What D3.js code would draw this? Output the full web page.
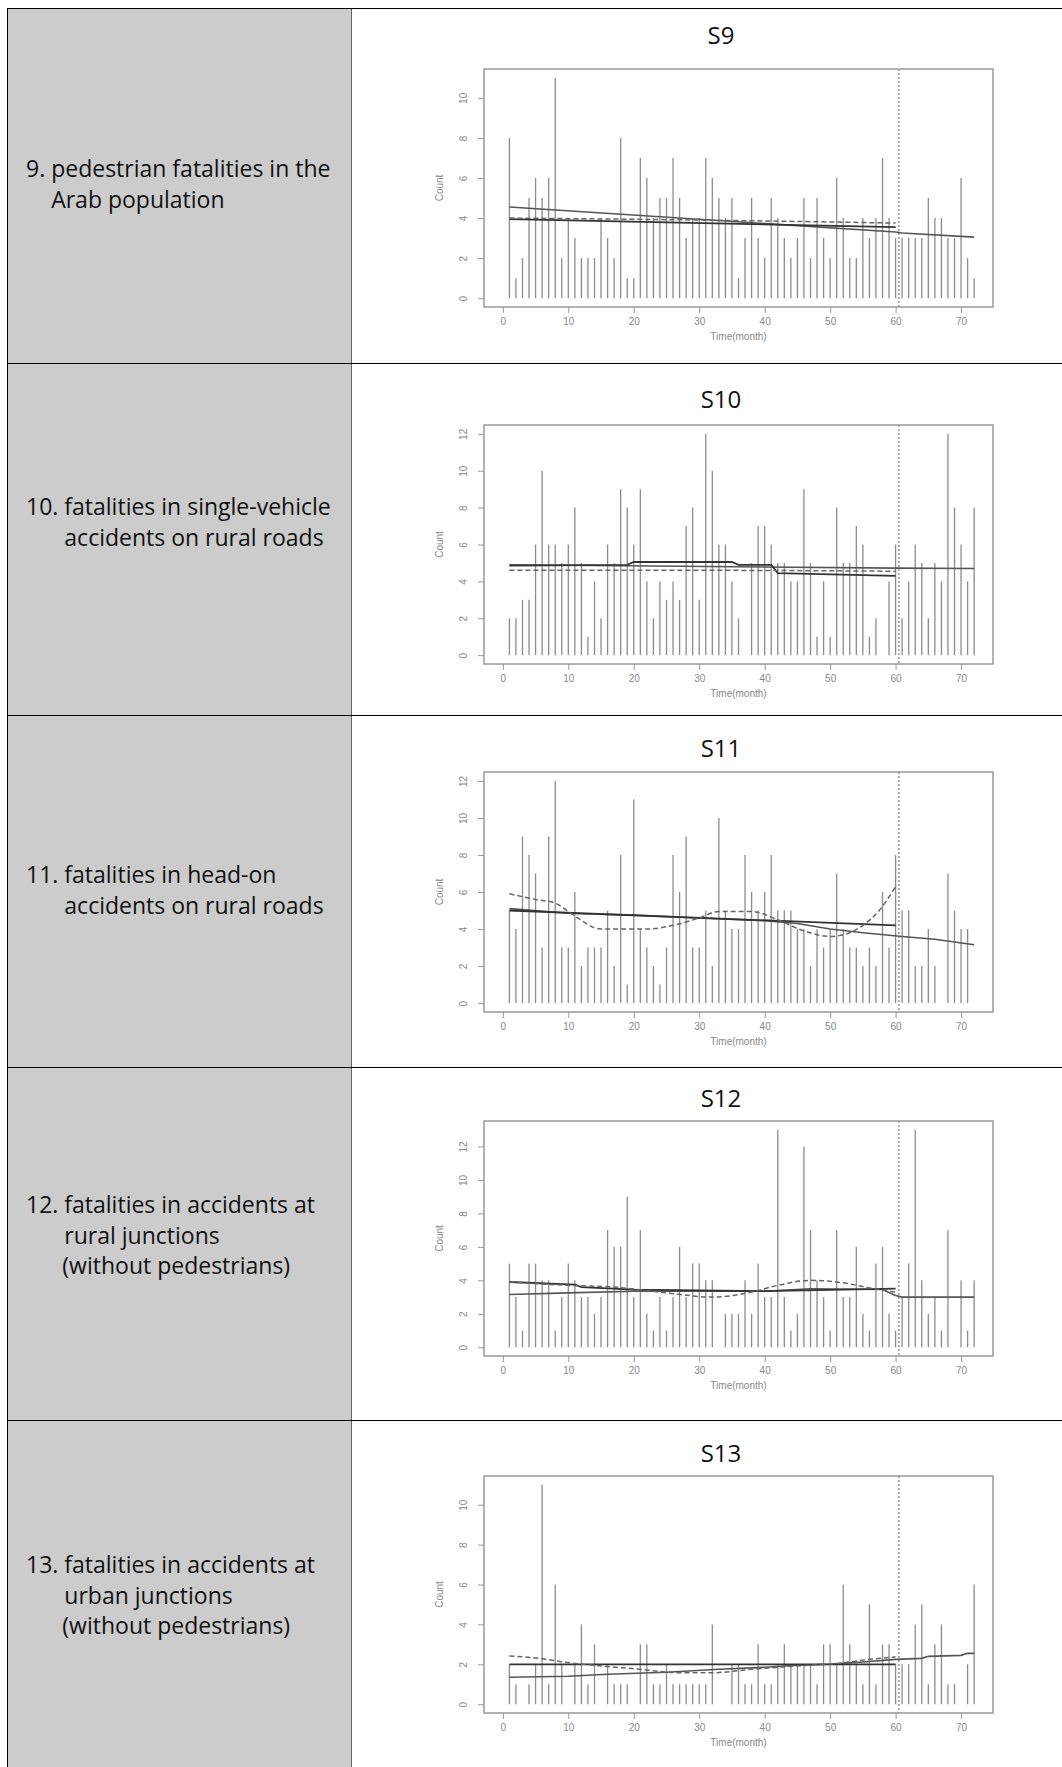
<!DOCTYPE html>
<html>
<head>
<meta charset="utf-8">
<script src="https://cdn.jsdelivr.net/npm/d3@7"></script>
<style>
  body { margin: 0; background: #fff; }
  svg { display: block; }
</style>
</head>
<body>
<div id="chart"></div>
<script>
// monthly counts, months 1..72
const s9Counts  = [8,1,2,5,6,5,6,11,2,4, 3,2,2,2,4,3,2,8,1,1, 7,6,4,5,5,7,5,3,4,4, 7,6,5,4,5,1,3,5,3,2, 5,4,3,2,3,5,2,5,3,2, 6,4,2,2,4,3,4,7,4,3, 3,3,3,3,5,4,4,3,3,6,2,1];
const s10Counts = [2,2,3,3,6,10,6,6,5,6, 8,5,1,4,2,6,5,9,8,6, 9,4,2,4,3,4,3,7,8,3, 12,10,6,6,4,2,0,5,7,7, 6,5,5,4,4,9,5,1,4,1, 8,5,5,7,6,1,2,0,4,6, 2,4,6,5,2,5,4,12,8,6,4,8];
const s11Counts = [5,4,9,8,7,3,9,12,3,3, 6,2,3,3,3,5,2,8,1,11, 4,3,2,1,3,8,6,9,3,3, 5,2,10,5,4,4,8,6,5,6, 8,5,5,5,4,4,2,4,3,4, 7,4,3,3,2,3,2,6,3,8, 5,5,2,2,4,2,0,7,5,4,4,0];
const s12Counts = [5,3,1,5,5,4,4,1,3,5, 4,3,3,2,3,7,6,6,9,3, 7,2,1,3,1,3,6,3,5,5, 4,4,0,2,2,2,4,2,5,3, 3,13,3,1,2,12,7,4,3,1, 7,3,3,6,2,1,5,6,2,1, 3,5,13,4,2,3,1,7,0,4,1,4];
const s13Counts = [2,1,0,1,2,11,1,6,2,0, 2,4,1,3,0,2,1,1,1,0, 3,3,1,1,2,1,1,1,1,1, 1,4,0,0,2,2,1,1,3,1, 1,2,3,2,2,2,2,1,3,3, 2,6,3,2,1,5,1,3,3,2, 2,2,4,5,1,3,4,1,1,0,2,6];

// fitted lines: [month, value]
const s9FitA = [[1,4.55],[60,3.3],[61,3.25],[72,3.05]];
const s9FitB = [[1,3.95],[60,3.55]];
const s9Smooth = [[1,4.0],[30,3.9],[60,3.75]];

const s10FitA = [[1,4.9],[60,4.72],[72,4.7]];
const s10FitB = [[1,4.85],[19,4.9],[20,5.05],[35,5.05],[36,4.9],[41,4.9],[42,4.45],[60,4.3]];
const s10Smooth = [[1,4.6],[30,4.6],[60,4.55]];

const s11FitA = [[1,5.1],[10,4.85],[20,4.75],[30,4.6],[40,4.45],[45,4.3],[50,4.0],[55,3.8],[61,3.6],[66,3.45],[72,3.15]];
const s11FitB = [[1,5.0],[60,4.2]];
const s11Smooth = [[1,5.9],[5,5.6],[8,5.4],[11,4.7],[15,4.0],[22,4.0],[26,4.2],[30,4.6],[33,4.95],[38,4.95],[42,4.5],[46,3.9],[50,3.6],[53,3.8],[55,4.2],[57.5,5.0],[60,6.3]];

const s12FitA = [[1,3.15],[10,3.25],[20,3.35],[40,3.35],[47,3.5],[58,3.45],[60,3.1],[61,3.0],[72,3.0]];
const s12FitB = [[1,3.9],[11,3.75],[12,3.6],[20,3.45],[40,3.35],[60,3.5]];
const s12Smooth = [[1,3.9],[10,3.7],[17,3.6],[25,3.25],[32,3.0],[38,3.3],[42,3.7],[47,4.0],[52,3.85],[56,3.55],[60,3.3]];

const s13FitA = [[1,1.35],[10,1.4],[16,1.5],[25,1.6],[33,1.75],[40,1.85],[45,1.95],[50,2.0],[55,2.12],[60,2.25],[64,2.3],[65,2.4],[70,2.45],[71,2.55],[72,2.55]];
const s13FitB = [[1,2.0],[60,2.0]];
const s13Smooth = [[1,2.42],[6,2.28],[9,2.13],[15,1.92],[20,1.78],[27,1.58],[32,1.58],[38,1.75],[45,1.92],[52,2.08],[56,2.25],[60,2.37]];

const titles = ["S9","S10","S11","S12","S13"];
const labels = [
  ["9. pedestrian fatalities in the", "Arab population"],
  ["10. fatalities in single-vehicle", "accidents on rural roads"],
  ["11. fatalities in head-on", "accidents on rural roads"],
  ["12. fatalities in accidents at", "rural junctions", "(without pedestrians)"],
  ["13. fatalities in accidents at", "urban junctions", "(without pedestrians)"]
];
const yMax = [11, 12, 12, 13, 11];
const yTicks = [[0,2,4,6,8,10],[0,2,4,6,8,10,12],[0,2,4,6,8,10,12],[0,2,4,6,8,10,12],[0,2,4,6,8,10]];
const xTicks = [0,10,20,30,40,50,60,70];
const interventionMonth = 60.5;

const panels = [
  {counts: s9Counts,  fitA: s9FitA,  fitB: s9FitB,  smooth: s9Smooth},
  {counts: s10Counts, fitA: s10FitA, fitB: s10FitB, smooth: s10Smooth},
  {counts: s11Counts, fitA: s11FitA, fitB: s11FitB, smooth: s11Smooth},
  {counts: s12Counts, fitA: s12FitA, fitB: s12FitB, smooth: s12Smooth},
  {counts: s13Counts, fitA: s13FitA, fitB: s13FitB, smooth: s13Smooth}
];

// layout
const W = 1062, H = 1775;
const tableLeft = 7, tableTop = 8, splitX = 351;
const rowTops = [8, 363, 715, 1067, 1420, 1775];
const textBase = [177, 515, 883, 1213, 1573];
const lineGap = 30.5;
const titleBase = [44, 408, 757, 1107, 1462];
const boxTop = [69, 425, 772, 1121, 1476];
const boxBottom = [307, 664, 1012, 1356, 1713];
const boxLeft = 484, boxRight = 993;
const font = "'Open Sans', sans-serif";
const axisFont = "'Liberation Sans', Arial, sans-serif";

const svg = d3.select("#chart").append("svg")
  .attr("width", W).attr("height", H);

// grey label column
svg.append("rect")
  .attr("x", tableLeft).attr("y", tableTop)
  .attr("width", splitX - tableLeft).attr("height", H - tableTop)
  .attr("fill", "#cccccc");

// table lines
svg.append("line").attr("x1", splitX + 0.5).attr("x2", splitX + 0.5)
  .attr("y1", tableTop).attr("y2", H).attr("stroke", "#666").attr("stroke-width", 1);
svg.append("line").attr("x1", tableLeft + 0.5).attr("x2", tableLeft + 0.5)
  .attr("y1", tableTop).attr("y2", H).attr("stroke", "#000").attr("stroke-width", 1);
svg.selectAll("line.row")
  .data(rowTops.slice(0, 5))
  .join("line")
  .attr("class", "row")
  .attr("x1", tableLeft).attr("x2", W)
  .attr("y1", d => d + 0.5).attr("y2", d => d + 0.5)
  .attr("stroke", "#000").attr("stroke-width", 1);

// row labels, hanging indent after the number
labels.forEach((lines, i) => {
  const g = svg.append("g");
  g.append("text")
    .attr("x", 26).attr("y", textBase[i])
    .style("font-family", font).style("font-size", "23px").attr("fill", "#111")
    .text(lines[0]);
  const prefix = lines[0].split(" ")[0] + " ";
  const tmp = g.append("text").style("font-family", font).style("font-size", "23px")
    .style("white-space", "pre").text(prefix);
  const indent = 26 + tmp.node().getComputedTextLength();
  tmp.remove();
  lines.slice(1).forEach((t, j) => {
    g.append("text")
      .attr("x", t.startsWith("(") ? indent - 2 : indent)
      .attr("y", textBase[i] + lineGap * (j + 1))
      .style("font-family", font).style("font-size", "23px").attr("fill", "#111")
      .text(t);
  });
});

// plots
panels.forEach((p, i) => {
  const g = svg.append("g");
  const pad = yMax[i] * 0.04;

  const x = d3.scaleLinear().domain([0 - 72 * 0.04, 72 + 72 * 0.04]).range([boxLeft, boxRight]);
  const y = d3.scaleLinear().domain([-pad, yMax[i] + pad]).range([boxBottom[i], boxTop[i]]);

  g.append("text")
    .attr("x", 721).attr("y", titleBase[i])
    .attr("text-anchor", "middle")
    .style("font-family", font).style("font-size", "24px").attr("fill", "#111")
    .text(titles[i]);

  // count spikes
  g.append("g")
    .selectAll("line")
    .data(p.counts.map((c, k) => [k + 1, c]))
    .join("line")
    .attr("x1", d => x(d[0])).attr("x2", d => x(d[0]))
    .attr("y1", y(0)).attr("y2", d => y(d[1]))
    .attr("stroke", "#8c8c8c").attr("stroke-width", 1.3);

  // intervention marker
  g.append("line")
    .attr("x1", x(interventionMonth)).attr("x2", x(interventionMonth))
    .attr("y1", boxTop[i]).attr("y2", boxBottom[i])
    .attr("stroke", "#888").attr("stroke-width", 1.3)
    .attr("stroke-dasharray", "2,2");

  const line = d3.line().x(d => x(d[0])).y(d => y(d[1]));

  g.append("path").datum(p.fitA).attr("d", line)
    .attr("fill", "none").attr("stroke", "#555").attr("stroke-width", 1.6);
  g.append("path").datum(p.fitB).attr("d", line)
    .attr("fill", "none").attr("stroke", "#333").attr("stroke-width", 1.8);
  g.append("path").datum(p.smooth).attr("d", d3.line().curve(d3.curveMonotoneX).x(d => x(d[0])).y(d => y(d[1])))
    .attr("fill", "none").attr("stroke", "#666").attr("stroke-width", 1.5)
    .attr("stroke-dasharray", "5,3");

  // box
  g.append("rect")
    .attr("x", boxLeft).attr("y", boxTop[i])
    .attr("width", boxRight - boxLeft).attr("height", boxBottom[i] - boxTop[i])
    .attr("fill", "none").attr("stroke", "#999").attr("stroke-width", 1.5);

  // axes
  const xa = g.append("g")
    .attr("transform", `translate(0,${boxBottom[i]})`)
    .call(d3.axisBottom(x).tickValues(xTicks).tickSize(6).tickPadding(5));
  const ya = g.append("g")
    .attr("transform", `translate(${boxLeft},0)`)
    .call(d3.axisLeft(y).tickValues(yTicks[i]).tickSize(6));
  [xa, ya].forEach(a => {
    a.select(".domain").remove();
    a.selectAll("line").attr("stroke", "#999");
    a.selectAll("text").attr("fill", "#888")
      .style("font-family", axisFont).style("font-size", "10px");
  });
  // R style: y labels parallel to the axis
  ya.selectAll(".tick text")
    .attr("text-anchor", "middle")
    .attr("x", null).attr("y", null)
    .attr("dy", "0.35em")
    .attr("transform", "translate(-21,0) rotate(-90)");

  g.append("text")
    .attr("x", (boxLeft + boxRight) / 2).attr("y", boxBottom[i] + 33)
    .attr("text-anchor", "middle")
    .style("font-family", axisFont).style("font-size", "10px")
    .attr("fill", "#888").text("Time(month)");
  g.append("text")
    .attr("transform", `translate(${boxLeft - 41},${(boxTop[i] + boxBottom[i]) / 2}) rotate(-90)`)
    .attr("text-anchor", "middle")
    .style("font-family", axisFont).style("font-size", "10px")
    .attr("fill", "#888").text("Count");
});
</script>
</body>
</html>
